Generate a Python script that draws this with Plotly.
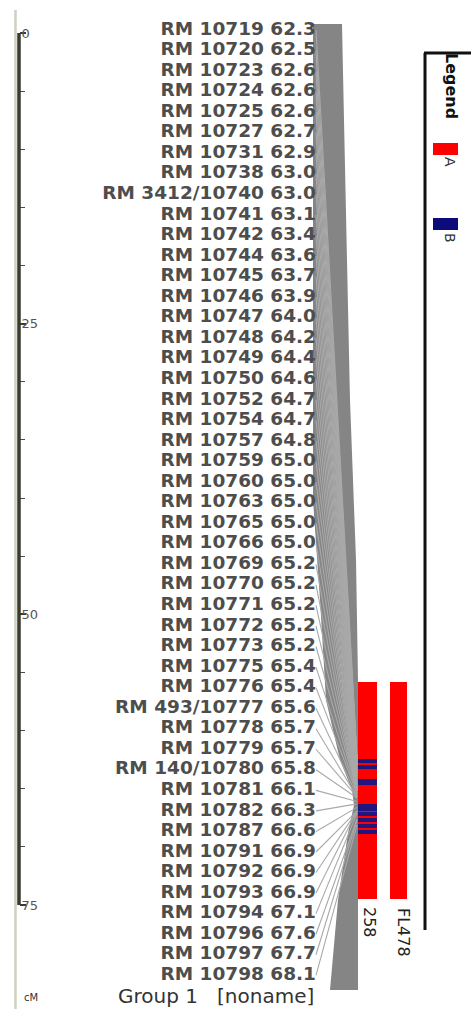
import plotly.graph_objects as go

# ---------------- data ----------------
marker_names = [
    "RM 10719", "RM 10720", "RM 10723", "RM 10724", "RM 10725", "RM 10727",
    "RM 10731", "RM 10738", "RM 3412/10740", "RM 10741", "RM 10742", "RM 10744",
    "RM 10745", "RM 10746", "RM 10747", "RM 10748", "RM 10749", "RM 10750",
    "RM 10752", "RM 10754", "RM 10757", "RM 10759", "RM 10760", "RM 10763",
    "RM 10765", "RM 10766", "RM 10769", "RM 10770", "RM 10771", "RM 10772",
    "RM 10773", "RM 10775", "RM 10776", "RM 493/10777", "RM 10778", "RM 10779",
    "RM 140/10780", "RM 10781", "RM 10782", "RM 10787", "RM 10791", "RM 10792",
    "RM 10793", "RM 10794", "RM 10796", "RM 10797", "RM 10798",
]
marker_cm = [
    62.3, 62.5, 62.6, 62.6, 62.6, 62.7, 62.9, 63.0, 63.0, 63.1, 63.4, 63.6,
    63.7, 63.9, 64.0, 64.2, 64.4, 64.6, 64.7, 64.7, 64.8, 65.0, 65.0, 65.0,
    65.0, 65.0, 65.2, 65.2, 65.2, 65.2, 65.2, 65.4, 65.4, 65.6, 65.7, 65.7,
    65.8, 66.1, 66.3, 66.6, 66.9, 66.9, 66.9, 67.1, 67.6, 67.7, 68.1,
]
qtl_names = ["258", "FL478"]
qtl_start_cm = [55.8, 55.8]
qtl_end_cm = [74.5, 74.5]
allele_b_cm = [62.6, 63.1, 64.4, 66.6, 67.2, 67.7, 68.2, 68.7]
allele_b_len = [0.35, 0.35, 0.55, 0.55, 0.35, 0.35, 0.35, 0.35]
major_ticks = [0, 25, 50, 75]
minor_ticks = [5, 10, 15, 20, 30, 35, 40, 45, 55, 60, 65, 70]
legend_labels = ["A", "B"]
legend_colors = ["#ff0000", "#0b0b7a"]
group_title = "Group 1\u00a0\u00a0 [noname]"
axis_unit = "cM"

# ---------------- layout geometry ----------------
W, H = 471, 1009
Y0_PX = 33.0          # pixel row of 0 cM
PX_PER_CM = 11.627


def cm_of(px):
    return (px - Y0_PX) / PX_PER_CM


LABEL_X = 316
LABEL_TOP_PX = 30.0
LABEL_STEP_PX = 20.55
CONN_END_X = 357
AXIS_X = 19.0
QTL_X = [367.5, 398.5]
QTL_W = [19, 17]
RED = "#ff0000"
BLUE = "#22167e"

slots = [cm_of(LABEL_TOP_PX + i * LABEL_STEP_PX) for i in range(len(marker_names))]
labels = [f"{n} {v:.1f}" for n, v in zip(marker_names, marker_cm)]

fig = go.Figure()

# chromosome band (outline in pixel geometry)
band_px = [(313, 24), (342, 24), (344, 120), (350, 400), (356, 560), (358, 680),
           (358, 990), (330, 990), (338, 900), (348, 833), (354, 805), (352, 790),
           (340, 760), (326, 700), (320, 600), (313, 500), (313, 24)]
fig.add_trace(go.Scatter(
    x=[p[0] for p in band_px], y=[cm_of(p[1]) for p in band_px],
    mode="lines", fill="toself", fillcolor="#858585",
    line=dict(width=0, color="#858585"), hoverinfo="skip"))

# connectors label -> map position
cx, cy = [], []
for s, v in zip(slots, marker_cm):
    cx += [LABEL_X, CONN_END_X, None]
    cy += [s, v, None]
fig.add_trace(go.Scatter(x=cx, y=cy, mode="lines",
                         line=dict(color="#a9a9a9", width=1.1), hoverinfo="skip"))

# marker labels
fig.add_trace(go.Scatter(
    x=[LABEL_X] * len(labels), y=slots, mode="text", text=labels,
    textposition="middle left",
    textfont=dict(family="DejaVu Sans", size=18.5, color="#4d4d4d", weight="bold"),
    hoverinfo="skip"))

# QTL bars
fig.add_trace(go.Bar(
    x=QTL_X, y=[e - s for s, e in zip(qtl_start_cm, qtl_end_cm)], base=qtl_start_cm,
    width=QTL_W, marker=dict(color=RED, line=dict(width=0)), hoverinfo="skip"))

# allele B stripes on first QTL
fig.add_trace(go.Bar(
    x=[QTL_X[0]] * len(allele_b_cm), y=allele_b_len,
    base=[c - l / 2 for c, l in zip(allele_b_cm, allele_b_len)],
    width=[QTL_W[0]] * len(allele_b_cm),
    marker=dict(color=BLUE, line=dict(width=0)), hoverinfo="skip"))

shapes = [
    # light rule
    dict(type="line", xref="x", yref="y", x0=15.5, x1=15.5, y0=cm_of(10), y1=cm_of(H),
         line=dict(color="#cfd1c0", width=2.5)),
    # dark scale bar
    dict(type="line", xref="x", yref="y", x0=AXIS_X, x1=AXIS_X,
         y0=major_ticks[0], y1=major_ticks[-1], line=dict(color="#383b2f", width=3.5)),
    # legend frame
    dict(type="line", xref="x", yref="y", x0=425, x1=425, y0=cm_of(53), y1=cm_of(930),
         line=dict(color="#111111", width=3)),
    dict(type="line", xref="x", yref="y", x0=424, x1=W, y0=cm_of(53), y1=cm_of(53),
         line=dict(color="#111111", width=3)),
]
legend_swatch_px = [143, 218]
for top, col in zip(legend_swatch_px, legend_colors):
    shapes.append(dict(type="rect", xref="x", yref="y", x0=433, x1=458,
                       y0=cm_of(top), y1=cm_of(top + 12), fillcolor=col,
                       line=dict(width=0)))

annotations = [
    dict(x=452, y=cm_of(86), text="Legend", textangle=90, showarrow=False,
         xanchor="center", yanchor="middle",
         font=dict(family="DejaVu Sans", size=16, color="#111111", weight="bold")),
    dict(x=31, y=cm_of(997), text=axis_unit, showarrow=False,
         xanchor="center", yanchor="middle",
         font=dict(family="DejaVu Sans", size=10, color="#333333")),
    dict(x=216, y=cm_of(H), text=group_title, showarrow=False,
         xanchor="center", yanchor="bottom", borderpad=0,
         font=dict(family="DejaVu Sans", size=20, color="#333333")),
]
for lab, cy_px in zip(legend_labels, [162, 238]):
    annotations.append(dict(x=450, y=cm_of(cy_px), text=lab, textangle=90,
                            showarrow=False, xanchor="center", yanchor="middle",
                            font=dict(family="DejaVu Sans", size=14, color="#333333")))
for name, xc, cy_px in zip(qtl_names, [370, 404], [922, 932]):
    annotations.append(dict(x=xc, y=cm_of(cy_px), text=name, textangle=90,
                            showarrow=False, xanchor="center", yanchor="middle",
                            font=dict(family="DejaVu Sans", size=16, color="#222222")))

fig.update_layout(
    width=W, height=H, margin=dict(l=0, r=0, t=0, b=0),
    paper_bgcolor="white", plot_bgcolor="white",
    showlegend=False, barmode="overlay", bargap=0,
    shapes=shapes, annotations=annotations,
    xaxis=dict(range=[0, W], visible=False, fixedrange=True),
    yaxis=dict(range=[cm_of(H), cm_of(0)], anchor="free", position=AXIS_X / W,
               showline=False, showgrid=False, zeroline=False,
               tickmode="array", tickvals=major_ticks,
               ticktext=[str(t) for t in major_ticks],
               ticks="inside", ticklen=6, tickwidth=1.5, tickcolor="#3a3a3a",
               ticklabelposition="inside", ticklabelstandoff=-5,
               tickfont=dict(family="DejaVu Sans", size=13, color="#555555"),
               minor=dict(tickmode="array", tickvals=minor_ticks, ticks="inside",
                          ticklen=5, tickwidth=1.3, tickcolor="#4a4a4a"),
               fixedrange=True),
)

fig.write_html("out.html",
               config={"displayModeBar": False},
               post_script="document.body.style.margin='0';"
                           "document.body.style.overflow='hidden';")
